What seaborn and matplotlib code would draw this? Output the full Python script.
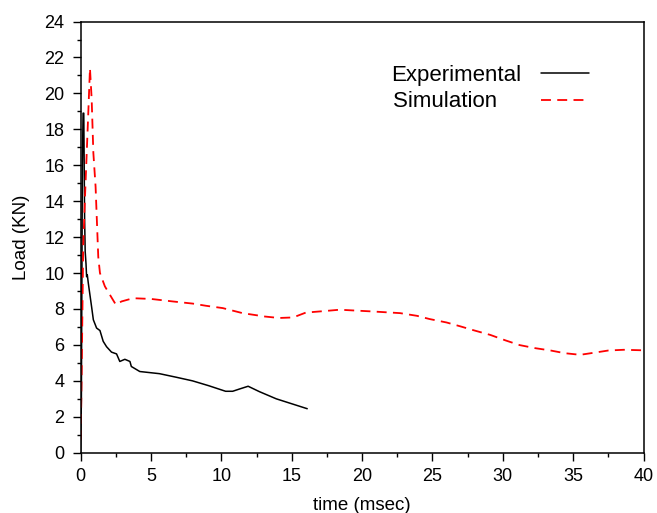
import numpy as np
import pandas as pd
import matplotlib
matplotlib.use("Agg")
import matplotlib.pyplot as plt
from matplotlib.ticker import MultipleLocator
import seaborn as sns

# ---- data ----
exp_time = [0.0, 0.05, 0.12, 0.17, 0.22, 0.28, 0.32, 0.38, 0.42, 0.47, 0.54,
            0.78, 0.90, 1.13, 1.37, 1.60, 1.84, 2.19, 2.55, 2.78, 3.14, 3.50,
            3.60, 4.20, 5.60, 6.80, 7.95, 9.10, 10.3, 10.8, 11.3, 11.9, 12.7,
            13.9, 15.1, 16.1]
exp_load = [0.0, 3.0, 16.0, 18.9, 18.9, 13.0, 11.2, 10.5, 9.8, 9.9, 9.45,
            8.1, 7.4, 6.94, 6.8, 6.2, 5.9, 5.6, 5.5, 5.08, 5.2, 5.08,
            4.8, 4.52, 4.4, 4.2, 4.0, 3.73, 3.42, 3.42, 3.55, 3.7, 3.4,
            3.0, 2.7, 2.45]

sim_time = [0.0, 0.07, 0.18, 0.30, 0.375, 0.54, 0.66, 0.78, 0.90, 1.06, 1.13,
            1.25, 1.37, 1.72, 2.07, 2.50, 2.90, 3.72, 5.0, 6.55, 7.97, 8.9,
            10.1, 11.5, 13.1, 14.1, 15.1, 16.0, 17.4, 18.4, 20.8, 22.7, 23.9,
            24.8, 26.0, 27.0, 28.0, 29.1, 30.2, 31.2, 32.3, 33.4, 34.4, 35.5,
            36.6, 37.5, 38.6, 40.0]
sim_load = [0.7, 4.4, 11.5, 14.1, 15.6, 18.9, 21.4, 19.7, 16.7, 14.8, 13.35,
            10.9, 10.0, 9.26, 8.8, 8.24, 8.42, 8.6, 8.56, 8.42, 8.3, 8.18,
            8.05, 7.77, 7.58, 7.5, 7.53, 7.8, 7.89, 7.96, 7.86, 7.77, 7.62,
            7.44, 7.25, 7.03, 6.8, 6.56, 6.25, 5.99, 5.82, 5.69, 5.54, 5.45,
            5.58, 5.69, 5.73, 5.7]

x_ticks = [0, 5, 10, 15, 20, 25, 30, 35, 40]
y_ticks = [0, 2, 4, 6, 8, 10, 12, 14, 16, 18, 20, 22, 24]
series_labels = ["Experimental", "Simulation"]

df_exp = pd.DataFrame({"time": exp_time, "load": exp_load})
df_sim = pd.DataFrame({"time": sim_time, "load": sim_load})

sns.set_style("white")
plt.rcParams['font.family'] = ['Liberation Sans', 'DejaVu Sans']
plt.rcParams['text.color'] = 'black'
plt.rcParams['axes.labelcolor'] = 'black'
plt.rcParams['xtick.color'] = 'black'
plt.rcParams['ytick.color'] = 'black'

fig = plt.figure(figsize=(6.57, 5.13), dpi=100)
ax = fig.add_axes([0.1228, 0.1175, 0.8567, 0.8405])

sns.lineplot(data=df_exp, x="time", y="load", ax=ax, sort=False,
             color="black", lw=1.1, label=series_labels[0])
sns.lineplot(data=df_sim, x="time", y="load", ax=ax, sort=False,
             color="#ff0000", lw=1.3, label=series_labels[1], dashes=False)
ax.lines[1].set_dashes([5.5, 3.5])

ax.set_xlim(0, 40)
ax.set_ylim(0, 24)
ax.set_xticks(x_ticks)
ax.set_yticks(y_ticks)
ax.xaxis.set_minor_locator(MultipleLocator(2.5))
ax.yaxis.set_minor_locator(MultipleLocator(1))
ax.tick_params(axis="both", which="major", direction="out", length=5.5,
               width=1, color="black", labelcolor="black", labelsize=13,
               bottom=True, left=True, top=False, right=False)
ax.tick_params(axis="x", which="major", pad=5.5)
ax.tick_params(axis="y", which="major", pad=6.3)
ax.tick_params(axis="both", which="minor", direction="out", length=3,
               width=1, color="black", bottom=True, left=True)
for s in ax.spines.values():
    s.set_color("black")
    s.set_linewidth(1.1)

ax.set_xlabel("time (msec)", fontsize=13.5, labelpad=8.5, color="black")
ax.set_ylabel("Load (KN)", fontsize=13.5, labelpad=10.2, color="black")

# legend: labels left-aligned, sample lines to their right
handles, labels = ax.get_legend_handles_labels()
labels = [labels[0], labels[1] + "    "]
leg = ax.legend(handles, labels, loc="upper left", bbox_to_anchor=(0.596, 0.874),
                bbox_transform=fig.transFigure, frameon=False,
                borderaxespad=0, borderpad=0,
                markerfirst=False, fontsize=16, handlelength=2.2,
                handletextpad=0.85, labelspacing=0.26)
for t in leg.get_texts():
    t.set_color("black")

fig.savefig("out.png", dpi=100)
